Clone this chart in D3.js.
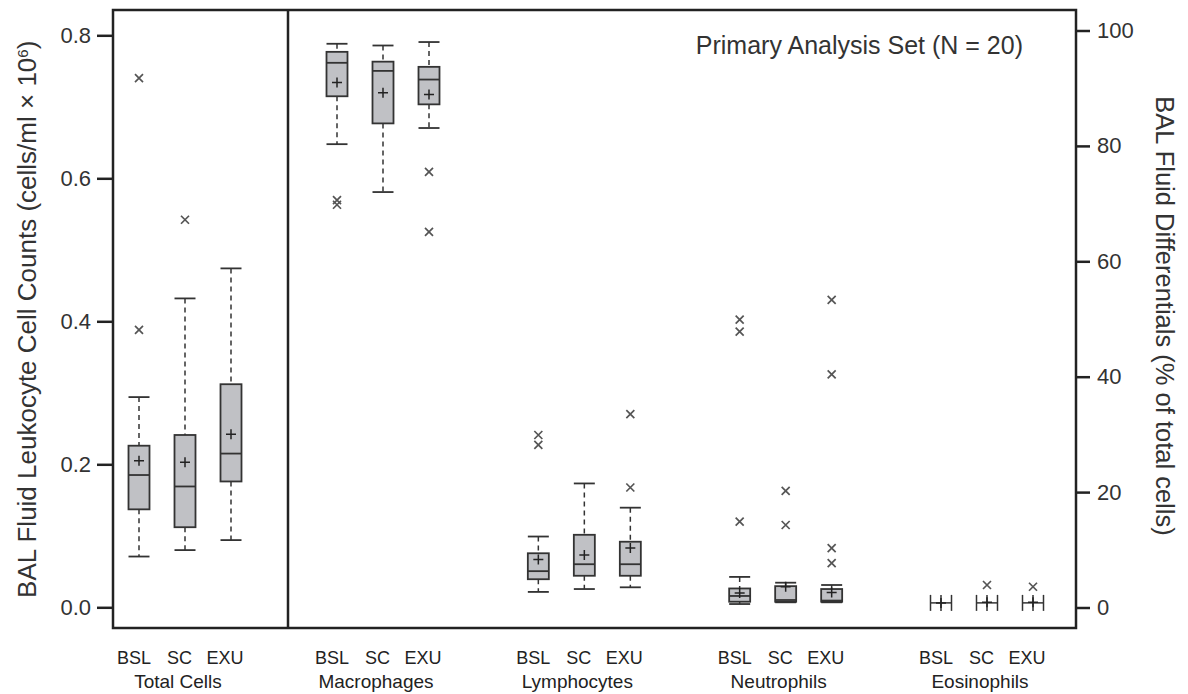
<!DOCTYPE html>
<html>
<head>
<meta charset="utf-8">
<script src="https://cdn.jsdelivr.net/npm/d3@7"></script>
<style>
  body { margin: 0; background: #fff; }
  svg { display: block; font-family: "Liberation Sans", Arial, Helvetica, sans-serif; }
</style>
</head>
<body>
<svg id="chart" width="1188" height="694"></svg>
<script>
// groups and visits
const groups = ['Total Cells', 'Macrophages', 'Lymphocytes', 'Neutrophils', 'Eosinophils']
const visits = ['BSL', 'SC', 'EXU']

// box stats per visit: [whiskerLow, q1, median, q3, whiskerHigh, mean]
// total cells in cells/ml x 10^6, the others in % of total cells
const totalCells = [[0.071, 0.137, 0.185, 0.226, 0.294, 0.205], [0.080, 0.112, 0.169, 0.241, 0.432, 0.203], [0.094, 0.176, 0.215, 0.312, 0.474, 0.242]]
const totalCellsOut = [[0.740, 0.388], [0.542], []]
const macrophages = [[80.3, 88.6, 94.4, 96.3, 97.7, 91.0], [72.0, 83.9, 93.0, 94.6, 97.4, 89.2], [83.1, 87.2, 91.5, 93.7, 98.0, 88.9]]
const macrophagesOut = [[70.6, 69.8], [], [75.5, 65.1]]
const lymphocytes = [[2.7, 4.9, 6.3, 9.4, 12.3, 8.3], [3.2, 5.5, 7.5, 12.6, 21.5, 9.1], [3.5, 5.5, 7.5, 11.4, 17.3, 10.3]]
const lymphocytesOut = [[29.9, 28.2], [], [33.5, 20.8]]
const neutrophils = [[0.6, 1.0, 2.0, 3.3, 5.3, 2.5], [0.9, 1.0, 1.3, 3.7, 4.3, 3.6], [0.9, 1.0, 1.2, 3.2, 3.9, 2.6]]
const neutrophilsOut = [[49.9, 47.8, 14.9], [20.2, 14.3], [53.3, 40.4, 10.3, 7.7]]
const eosinophils = [[0.8, 0.8, 0.8, 0.8, 0.8, 0.8], [0.8, 0.8, 0.8, 0.8, 0.8, 0.9], [0.8, 0.8, 0.8, 0.8, 0.8, 0.9]]
const eosinophilsOut = [[], [3.9], [3.6]]

const leftTicks = [0, 0.2, 0.4, 0.6, 0.8]
const rightTicks = [0, 20, 40, 60, 80, 100]

const stats = [totalCells, macrophages, lymphocytes, neutrophils, eosinophils]
const outliers = [totalCellsOut, macrophagesOut, lymphocytesOut, neutrophilsOut, eosinophilsOut]

const frame = { left: 113, right: 1076, top: 10, bottom: 628 }
const divider = 288
const boxW = 21

const svg = d3.select('#chart')

const yL = d3.scaleLinear().domain([0, 0.8]).range([607.3, 35.3])
const yR = d3.scaleLinear().domain([0, 100]).range([607.5, 30.5])

// x: total cells sits in its own panel, the differentials share the right panel
const xRight = d3.scalePoint().domain(groups.slice(1)).range([383, 987])
const groupX = g => g === groups[0] ? 185 : xRight(g)
const xVisit = d3.scalePoint().domain(visits).range([-46, 46])
// the visit labels sit a little left of their boxes
const xLabel = d3.scalePoint().domain(visits).range([-51, 40])

const ink = '#333'

// boxes
groups.forEach((g, gi) => {
    const y = gi === 0 ? yL : yR
    const layer = svg.append('g')
    stats[gi].forEach((s, vi) => {
        const [lo, q1, med, q3, hi, mean] = s
        const cx = groupX(g) + xVisit(visits[vi])
        const x0 = cx - boxW / 2, x1 = cx + boxW / 2
        const b = layer.append('g')

        if (y(q1) - y(q3) < 2) {
            // collapsed box, drawn as an H
            const ym = y(med)
            ;[x0, cx, x1].forEach(xx => {
                b.append('line').attr('x1', xx).attr('x2', xx)
                    .attr('y1', ym - 8).attr('y2', ym + 8)
                    .attr('stroke', ink).attr('stroke-width', 1.5)
            })
            b.append('line').attr('x1', x0).attr('x2', x1)
                .attr('y1', ym).attr('y2', ym)
                .attr('stroke', ink).attr('stroke-width', 1.5)
        } else {
            // whiskers
            b.append('line').attr('x1', cx).attr('x2', cx)
                .attr('y1', y(hi)).attr('y2', y(q3))
                .attr('stroke', ink).attr('stroke-width', 1.5).attr('stroke-dasharray', '5,4')
            b.append('line').attr('x1', cx).attr('x2', cx)
                .attr('y1', y(q1)).attr('y2', y(lo))
                .attr('stroke', ink).attr('stroke-width', 1.5).attr('stroke-dasharray', '5,4')
            ;[lo, hi].forEach(v => {
                b.append('line').attr('x1', x0).attr('x2', x1)
                    .attr('y1', y(v)).attr('y2', y(v))
                    .attr('stroke', ink).attr('stroke-width', 1.8)
            })
            b.append('rect')
                .attr('x', x0).attr('y', y(q3))
                .attr('width', boxW).attr('height', y(q1) - y(q3))
                .attr('fill', '#c0c1c5').attr('stroke', ink).attr('stroke-width', 1.8)
            b.append('line').attr('x1', x0).attr('x2', x1)
                .attr('y1', y(med)).attr('y2', y(med))
                .attr('stroke', ink).attr('stroke-width', 1.8)
        }

        // mean marker
        b.append('path')
            .attr('d', `M${cx - 5},${y(mean)}H${cx + 5}M${cx},${y(mean) - 5}V${y(mean) + 5}`)
            .attr('stroke', '#222').attr('stroke-width', 1.5)

        // outliers
        b.selectAll('path.out')
            .data(outliers[gi][vi])
            .join('path')
            .attr('class', 'out')
            .attr('d', d => `M${cx - 4},${y(d) - 4}L${cx + 4},${y(d) + 4}M${cx - 4},${y(d) + 4}L${cx + 4},${y(d) - 4}`)
            .attr('stroke', '#555').attr('stroke-width', 1.7).attr('fill', 'none')
    })
})

// frame and divider
svg.append('rect')
    .attr('x', frame.left).attr('y', frame.top)
    .attr('width', frame.right - frame.left).attr('height', frame.bottom - frame.top)
    .attr('fill', 'none').attr('stroke', '#222').attr('stroke-width', 2.5)
svg.append('line')
    .attr('x1', divider).attr('x2', divider)
    .attr('y1', frame.top).attr('y2', frame.bottom)
    .attr('stroke', '#222').attr('stroke-width', 2.5)

// axes
const styleAxis = g => {
    g.select('.domain').remove()
    g.selectAll('.tick line').attr('stroke', '#222').attr('stroke-width', 2.5)
    g.selectAll('.tick text').attr('fill', '#333').style('font-size', '22px').style('font-family', 'inherit')
}

svg.append('g')
    .attr('transform', `translate(${frame.left},0)`)
    .call(d3.axisLeft(yL).tickValues(leftTicks).tickFormat(d3.format('.1f')).tickSize(16).tickPadding(6))
    .call(styleAxis)

svg.append('g')
    .attr('transform', `translate(${frame.right},0)`)
    .call(d3.axisRight(yR).tickValues(rightTicks).tickSize(14).tickPadding(7))
    .call(styleAxis)

// axis titles
const leftTitle = svg.append('text')
    .attr('transform', `translate(36,${(yL(0) + yL(0.8)) / 2 - 2}) rotate(-90)`)
    .attr('text-anchor', 'middle')
    .attr('fill', '#333')
    .style('font-size', '26px')
    .text('BAL Fluid Leukocyte Cell Counts (cells/ml \u00d7 10')
leftTitle.append('tspan').attr('baseline-shift', 'super').style('font-size', '15px').text('6')
leftTitle.append('tspan').text(')')

svg.append('text')
    .attr('transform', `translate(1156,${(yR(0) + yR(100)) / 2 - 3}) rotate(90)`)
    .attr('text-anchor', 'middle')
    .attr('fill', '#333')
    .style('font-size', '25.5px')
    .text('BAL Fluid Differentials (% of total cells)')

// annotation
svg.append('text')
    .attr('x', 1023).attr('y', 54)
    .attr('text-anchor', 'end')
    .attr('fill', '#333')
    .style('font-size', '25px')
    .text('Primary Analysis Set (N = 20)')

// category labels
groups.forEach(g => {
    visits.forEach(v => {
        svg.append('text')
            .attr('x', groupX(g) + xLabel(v)).attr('y', 664)
            .attr('text-anchor', 'middle')
            .attr('fill', '#222')
            .style('font-size', '18px')
            .text(v)
    })
    svg.append('text')
        .attr('x', groupX(g) - 7).attr('y', 688)
        .attr('text-anchor', 'middle')
        .attr('fill', '#222')
        .style('font-size', '19px')
        .text(g)
})
</script>
</body>
</html>
